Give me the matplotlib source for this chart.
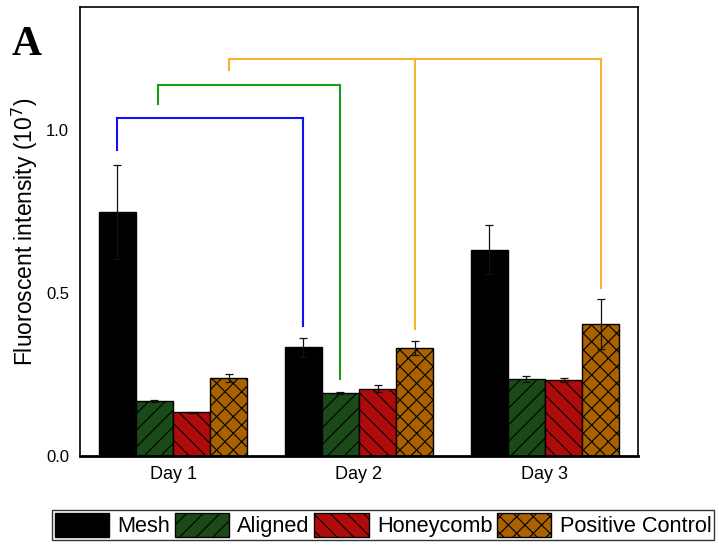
import numpy as np
import matplotlib
matplotlib.use("Agg")
import matplotlib.pyplot as plt

plt.rcParams["font.family"] = ["Liberation Sans", "DejaVu Sans"]
plt.rcParams["hatch.linewidth"] = 0.8

days = ["Day 1", "Day 2", "Day 3"]
groups = ["Mesh", "Aligned", "Honeycomb", "Positive Control"]

mesh = [0.748, 0.334, 0.633]
aligned = [0.170, 0.193, 0.236]
honeycomb = [0.134, 0.206, 0.233]
positive = [0.240, 0.332, 0.404]

mesh_err = [0.143, 0.029, 0.075]
aligned_err = [0.003, 0.003, 0.008]
honeycomb_err = [0.002, 0.011, 0.007]
positive_err = [0.012, 0.021, 0.076]

colors = ["#000000", "#1b4a19", "#b00b0b", "#a86200"]
hatches = [None, "//", "\\\\", "xx"]

# comparison brackets: (x positions, leg bottoms, bracket top, colour)
brackets = [
    ([-0.3, 0.7], [0.937, 0.400], 1.036, "#1010f0"),
    ([-0.08, 0.9], [1.078, 0.235], 1.137, "#18a018"),
    ([0.3, 1.3, 2.3], [1.183, 0.388, 0.514], 1.218, "#f5b531"),
]

fig = plt.figure(figsize=(7.19, 5.45), dpi=100)
ax = fig.add_axes([0.1113, 0.1633, 0.776, 0.824])

x = np.arange(len(days))
width = 0.2
values = [mesh, aligned, honeycomb, positive]
errors = [mesh_err, aligned_err, honeycomb_err, positive_err]
for i, (vals, errs) in enumerate(zip(values, errors)):
    pos = x + (i - 1.5) * width
    ax.bar(pos, vals, width, color=colors[i], hatch=hatches[i],
           edgecolor="black", linewidth=1.0, label=groups[i], zorder=2)
    ax.errorbar(pos, vals, yerr=errs, fmt="none", ecolor="#111111",
                elinewidth=0.9, capsize=3, capthick=0.9, zorder=3)

for xs, bottoms, top, col in brackets:
    ax.plot([xs[0], xs[-1]], [top, top], color=col, lw=1.5, zorder=4,
            solid_capstyle="projecting")
    for xb, yb in zip(xs, bottoms):
        ax.plot([xb, xb], [yb, top], color=col, lw=1.5, zorder=4)

ax.set_xlim(-0.5, 2.5)
ax.set_ylim(0, 1.377)
ax.set_xticks(x, days, fontsize=13)
ax.set_yticks([0.0, 0.5, 1.0], ["0.0", "0.5", "1.0"], fontsize=12)
ax.tick_params(axis="y", length=0, pad=8)
ax.tick_params(axis="x", length=0, pad=7)
ax.set_ylabel("Fluoroscent intensity (10$^7$)", fontsize=16.5, labelpad=4)
for side in ["left", "top", "right"]:
    ax.spines[side].set_linewidth(1.2)
ax.spines["bottom"].set_linewidth(2.0)

fig.text(0.0167, 0.899, "A", fontsize=30, fontweight="bold",
         family="Liberation Serif", va="baseline")

leg = fig.legend(loc="lower left", bbox_to_anchor=(52 / 719, 5 / 545), ncol=4,
                 fontsize=15.7, frameon=True, fancybox=False,
                 handlelength=2.5, handleheight=1.35, handletextpad=0.38,
                 columnspacing=0.2, borderpad=0.12, borderaxespad=0)
leg.get_frame().set_edgecolor("black")
leg.get_frame().set_linewidth(1.0)

fig.savefig("out.png", dpi=100)
